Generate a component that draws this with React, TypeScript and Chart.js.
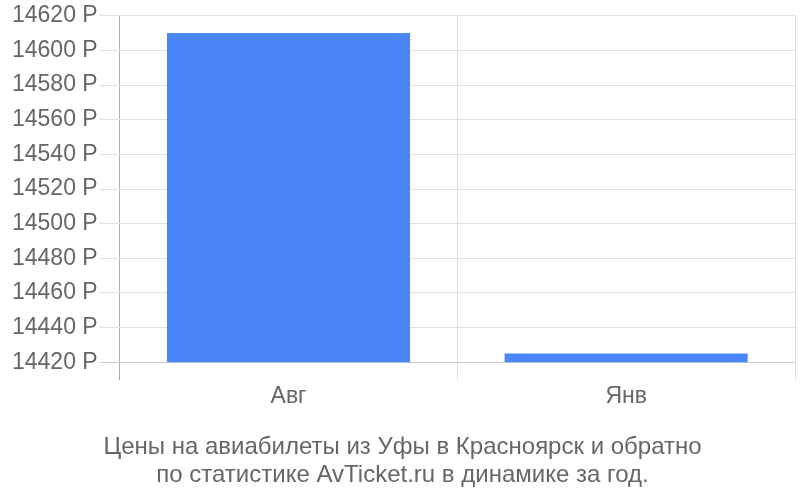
import React, { useEffect, useRef } from 'react';
import { Chart, registerables } from 'chart.js';

Chart.register(...registerables);

const months: string[] = ['Авг', 'Янв'];
const prices: number[] = [14610, 14425];
const titleLines: string[] = [
  'Цены на авиабилеты из Уфы в Красноярск и обратно',
  'по статистике AvTicket.ru в динамике за год.',
];

const FONT = "'Liberation Sans', Arial, sans-serif";

const App: React.FC = () => {
  const canvasRef = useRef<HTMLCanvasElement>(null);
  const chartRef = useRef<Chart | null>(null);

  useEffect(() => {
    document.body.style.margin = '0';
    if (!canvasRef.current) return;
    const ctx = canvasRef.current.getContext('2d');
    if (!ctx) return;

    chartRef.current = new Chart(ctx, {
      type: 'bar',
      data: {
        labels: months,
        datasets: [
          {
            data: prices,
            backgroundColor: '#4a86f8',
            borderWidth: 0,
          },
        ],
      },
      options: {
        responsive: true,
        maintainAspectRatio: false,
        animation: false,
        layout: { padding: { top: 4, right: 5, left: 10, bottom: 11 } },
        plugins: {
          legend: { display: false },
          tooltip: { enabled: false },
          title: {
            display: true,
            position: 'bottom',
            text: titleLines,
            color: '#666',
            font: { family: FONT, size: 24, weight: 'normal', lineHeight: 1.17 },
            padding: { top: 19, bottom: 0 },
          },
        },
        scales: {
          x: {
            grid: {
              offset: true,
              tickLength: 18,
              color: (c: any) => (c.index === 0 ? '#aaaaaa' : '#e0e0e0'),
            },
            border: { display: false },
            ticks: {
              color: '#666',
              font: { family: FONT, size: 23 },
              padding: 3,
            },
          },
          y: {
            min: 14420,
            max: 14620,
            grid: {
              tickLength: 20,
              color: (c: any) => (c.index === 0 ? '#cccccc' : '#e0e0e0'),
            },
            border: { display: false },
            ticks: {
              stepSize: 20,
              color: '#666',
              font: { family: FONT, size: 23 },
              padding: 2,
              callback: (v: any) => `${v} Р`,
            },
          },
        },
      },
    });

    return () => {
      if (chartRef.current) {
        chartRef.current.destroy();
        chartRef.current = null;
      }
    };
  }, []);

  return (
    <div style={{ width: 800, height: 500, position: 'relative' }}>
      <canvas ref={canvasRef} />
    </div>
  );
};

export default App;
